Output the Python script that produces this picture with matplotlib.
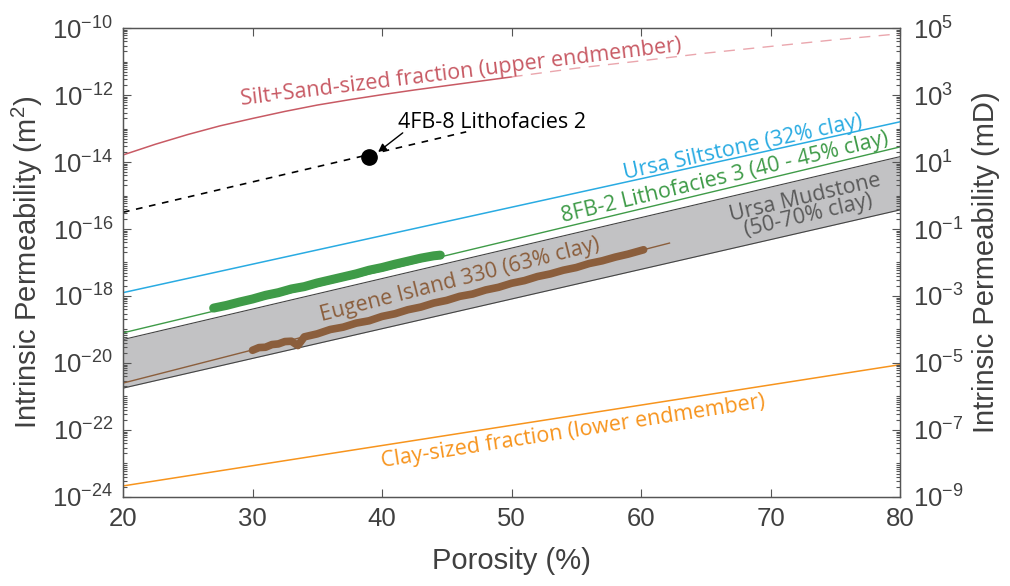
"""
Permeability-porosity relationships for mudrocks
"""

import matplotlib
matplotlib.use('Agg')  # Non-interactive backend

import numpy as np
from matplotlib import pyplot as plt
from matplotlib.ticker import FixedLocator, LogLocator, NullFormatter, FuncFormatter

plt.rcParams['font.family'] = ['Liberation Sans', 'DejaVu Sans']
plt.rcParams['mathtext.fontset'] = 'custom'
plt.rcParams['mathtext.rm'] = 'Liberation Sans'
plt.rcParams['mathtext.it'] = 'Liberation Sans:italic'
plt.rcParams['mathtext.bf'] = 'Liberation Sans:bold'

ANNOT_FONT = ['Open Sans', 'DejaVu Sans']

# =============================================================================
# Data (porosity in %, log10 permeability in m^2)
# =============================================================================
# Silt+Sand-sized fraction (upper endmember): measured range, then extrapolated
sand_phi = [20, 22.5, 25, 27.5, 30, 32.5, 35, 37.5, 40, 42.5, 45, 47.5, 50]
sand_logk = [-13.79, -13.47, -13.18, -12.92, -12.70, -12.49, -12.30,
             -12.14, -11.99, -11.85, -11.72, -11.59, -11.46]
sand_ext_phi = [50, 55, 60, 65, 70, 75, 80]
sand_ext_logk = [-11.46, -11.20, -10.98, -10.75, -10.55, -10.35, -10.17]

# Clay-sized fraction (lower endmember)
clay_phi = [20, 80]
clay_logk = [-23.67, -20.05]

# Ursa Siltstone (32% clay)
siltstone_phi = [20, 80]
siltstone_logk = [-17.9, -12.8]

# 8FB-2 Lithofacies 3 trend and data
fb2_phi = [20, 80]
fb2_logk = [-19.1, -13.55]
fb2_data_phi = [27, 28, 29, 30, 31, 32, 33, 34, 35, 36, 37, 38, 39, 40,
                41, 42, 43, 44, 44.5]
fb2_data_logk = [-18.36, -18.28, -18.18, -18.09, -17.98, -17.90, -17.79,
                 -17.72, -17.61, -17.52, -17.43, -17.34, -17.23, -17.15,
                 -17.05, -16.96, -16.87, -16.80, -16.78]

# Ursa Mudstone envelope (50-70% clay)
mud_phi = [20, 80]
mud_upper_logk = [-19.3, -13.84]
mud_lower_logk = [-20.75, -15.43]

# Eugene Island 330 trend and data
ei_phi = [20, 62.2]
ei_logk = [-20.6, -16.42]
ei_data_phi = [30, 30.5, 31, 31.5, 32, 32.5, 33, 33.5, 34, 35, 36, 37, 38,
               39, 40, 41, 42, 43, 44, 45, 46, 47, 48, 49, 50, 51, 52, 53,
               54, 55, 56, 57, 58, 59, 60.2]
ei_data_logk = [-19.62, -19.54, -19.53, -19.45, -19.43, -19.36, -19.35,
                -19.48, -19.22, -19.13, -19.00, -18.93, -18.81, -18.74,
                -18.61, -18.53, -18.41, -18.33, -18.21, -18.13, -18.01,
                -17.94, -17.82, -17.74, -17.62, -17.54, -17.42, -17.34,
                -17.23, -17.15, -17.03, -16.95, -16.84, -16.75, -16.62]

# 4FB-8 Lithofacies 2
fb8_phi = [20, 46.5]
fb8_logk = [-15.5, -13.1]
fb8_point_phi = 39
fb8_point_logk = -13.85

# Colours
c_red = '#c85a64'
c_red_light = '#eaa6ad'
c_blue = '#29abe2'
c_green = '#3f9b48'
c_orange = '#f7941d'
c_brown = '#8b5e3c'
c_gray_text = '#5a5a5a'
c_band = '#c2c2c4'
c_axis = '#555555'
c_label = '#404040'


def k(vals):
    return 10.0 ** np.asarray(vals, dtype=float)


# =============================================================================
# Figure
# =============================================================================
fig = plt.figure(figsize=(10.10, 5.86), dpi=100)
ax = fig.add_axes([0.1218, 0.1519, 0.7693, 0.8003])
ax.set_yscale('log')
ax.set_xlim(20, 80)
ax.set_ylim(1e-24, 1e-10)

# Ursa Mudstone band
ax.fill_between(mud_phi, k(mud_lower_logk), k(mud_upper_logk),
                color=c_band, lw=0, zorder=1)
ax.plot(mud_phi, k(mud_upper_logk), color='#444444', lw=0.8, zorder=2)
ax.plot(mud_phi, k(mud_lower_logk), color='#444444', lw=0.8, zorder=2)

# Endmembers
ax.plot(sand_phi, k(sand_logk), color=c_red, lw=1.1, zorder=3)
ax.plot(sand_ext_phi, k(sand_ext_logk), color=c_red_light, lw=1.0,
        dashes=(8, 6), zorder=3)
ax.plot(clay_phi, k(clay_logk), color=c_orange, lw=1.1, zorder=3)

# Trends
ax.plot(siltstone_phi, k(siltstone_logk), color=c_blue, lw=1.1, zorder=3)
ax.plot(fb2_phi, k(fb2_logk), color=c_green, lw=1.0, zorder=3)
ax.plot(ei_phi, k(ei_logk), color=c_brown, lw=1.0, zorder=3)

# Data
ax.plot(fb2_data_phi, k(fb2_data_logk), color=c_green, lw=6.5,
        solid_capstyle='round', solid_joinstyle='round', zorder=4)
ax.plot(ei_data_phi, k(ei_data_logk), color=c_brown, lw=5.5,
        solid_capstyle='round', solid_joinstyle='round', zorder=4)

# 4FB-8
ax.plot(fb8_phi, k(fb8_logk), color='black', lw=1.2, dashes=(4, 4), zorder=3)
ax.plot(fb8_point_phi, 10 ** fb8_point_logk, 'o', color='black',
        markersize=11, zorder=5)
ax.annotate('', xy=(39.7, 10 ** -13.70), xytext=(41.6, 10 ** -13.13),
            arrowprops=dict(arrowstyle='-|>', color='black', lw=1.0,
                            mutation_scale=12, shrinkA=0, shrinkB=0),
            zorder=5)
ax.text(41.2, 10 ** -12.81, '4FB-8 Lithofacies 2', color='black',
        fontsize=15.5, family=ANNOT_FONT, ha='left', va='center')


# Labels along lines
def screen_angle(x0, y0, x1, y1):
    p0 = ax.transData.transform((x0, 10 ** y0))
    p1 = ax.transData.transform((x1, 10 ** y1))
    return np.degrees(np.arctan2(p1[1] - p0[1], p1[0] - p0[0]))


def line_label(x, logy, text, color, angle):
    ax.text(x, 10 ** logy, text, color=color, fontsize=15.5, family=ANNOT_FONT,
            ha='center', va='center', rotation=angle, rotation_mode='anchor',
            linespacing=0.85, zorder=6)


line_label(46.1, -11.34, 'Silt+Sand-sized fraction (upper endmember)', c_red, 7.0)
line_label(67.9, -13.58, 'Ursa Siltstone (32% clay)', c_blue,
           screen_angle(siltstone_phi[0], siltstone_logk[0],
                        siltstone_phi[1], siltstone_logk[1]))
line_label(66.5, -14.48, '8FB-2 Lithofacies 3 (40 - 45% clay)', c_green,
           screen_angle(fb2_phi[0], fb2_logk[0], fb2_phi[1], fb2_logk[1]))
line_label(72.8, -15.34, 'Ursa Mudstone\n(50-70% clay)', c_gray_text,
           screen_angle(mud_phi[0], mud_upper_logk[0],
                        mud_phi[1], mud_upper_logk[1]))
line_label(46.0, -17.52, 'Eugene Island 330 (63% clay)', c_brown,
           screen_angle(ei_phi[0], ei_logk[0], ei_phi[1], ei_logk[1]))
line_label(54.8, -22.06, 'Clay-sized fraction (lower endmember)', c_orange,
           screen_angle(clay_phi[0], clay_logk[0], clay_phi[1], clay_logk[1]))

# Axes styling
exp_fmt = FuncFormatter(lambda v, pos: r'$10^{%d}$' % int(round(np.log10(v))))

ax.yaxis.set_major_locator(FixedLocator(10.0 ** np.arange(-24, -9, 2)))
ax.yaxis.set_major_formatter(exp_fmt)
ax.yaxis.set_minor_locator(LogLocator(base=10, subs=np.arange(1, 10), numticks=100))
ax.yaxis.set_minor_formatter(NullFormatter())
ax.set_xticks([20, 30, 40, 50, 60, 70, 80])

ax.tick_params(which='both', direction='in', color=c_axis, width=0.8,
               labelcolor=c_label, labelsize=18.5, top=True, right=False)
ax.tick_params(which='major', length=6)
ax.tick_params(which='minor', length=3)
ax.tick_params(axis='y', pad=7)
ax.tick_params(axis='x', pad=7)

ax2 = ax.twinx()
ax2.set_yscale('log')
ax2.set_ylim(1e-9, 1e5)
ax2.yaxis.set_major_locator(FixedLocator(10.0 ** np.arange(-9, 6, 2)))
ax2.yaxis.set_major_formatter(exp_fmt)
ax2.yaxis.set_minor_locator(LogLocator(base=10, subs=np.arange(1, 10), numticks=100))
ax2.yaxis.set_minor_formatter(NullFormatter())
ax2.tick_params(which='both', direction='in', color=c_axis, width=0.8,
                labelcolor=c_label, labelsize=18.5, pad=9)
ax2.tick_params(which='major', length=6)
ax2.tick_params(which='minor', length=3)

for a in (ax, ax2):
    for s in a.spines.values():
        s.set_color(c_axis)
        s.set_linewidth(0.9)

ax.set_xlabel('Porosity (%)', fontsize=21, color=c_label, labelpad=12)
ax.set_ylabel('Intrinsic Permeability (m$^2$)', fontsize=21, color=c_label,
              labelpad=5)
ax2.set_ylabel('Intrinsic Permeability (mD)', fontsize=21, color=c_label,
               labelpad=6)

fig.savefig('out.png', dpi=100)
plt.close(fig)
